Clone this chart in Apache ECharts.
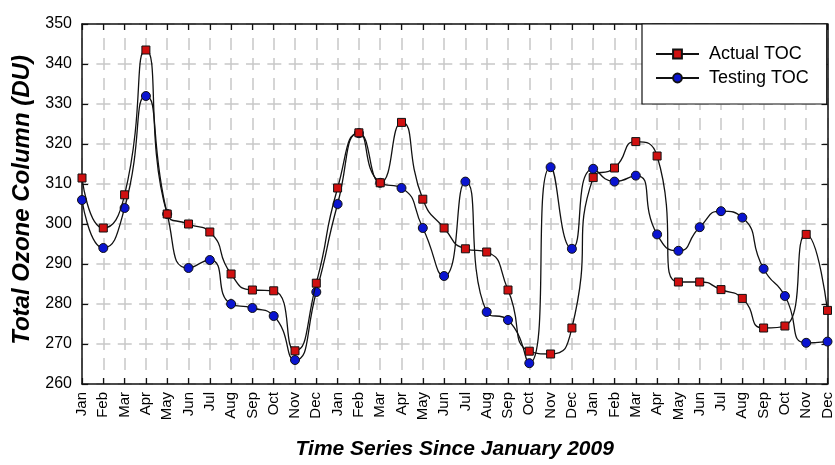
<!DOCTYPE html>
<html>
<head>
<meta charset="utf-8">
<script src="https://cdn.jsdelivr.net/npm/echarts@6/dist/echarts.min.js"></script>
<style>
  html, body { margin: 0; padding: 0; background: #fff; }
  #chart { width: 835px; height: 465px; }
</style>
</head>
<body>
<div id="chart"></div>
<script>
// Monthly total ozone column, Jan 2009 - Dec 2011
const months = ['Jan', 'Feb', 'Mar', 'Apr', 'May', 'Jun', 'Jul', 'Aug', 'Sep', 'Oct', 'Nov', 'Dec'];
const categories = months.concat(months, months);

const actualTOC = [
  311.5, 299.0, 307.3, 343.5, 302.5, 300.0, 298.0, 287.5, 283.5, 283.3, 268.3, 285.2,
  309.0, 322.8, 310.3, 325.4, 306.2, 299.0, 293.8, 293.0, 283.5, 268.2, 267.5, 274.0,
  311.6, 314.0, 320.6, 317.0, 285.5, 285.5, 283.6, 281.4, 274.0, 274.5, 297.4, 278.4
];
const testingTOC = [
  306.0, 294.0, 304.0, 332.0, 302.5, 289.0, 291.0, 280.0, 279.0, 277.0, 266.0, 283.0,
  305.0, 322.7, 310.3, 309.0, 299.0, 287.0, 310.6, 278.0, 276.0, 265.2, 314.2, 293.8,
  313.8, 310.6, 312.1, 297.4, 293.3, 299.2, 303.2, 301.6, 288.8, 282.0, 270.3, 270.6
];

const yMin = 260, yMax = 350, yStep = 10;
const FONT = 'Arial, "Liberation Sans", sans-serif';

const chart = echarts.init(document.getElementById('chart'), null, { renderer: 'canvas' });

const frameLine = { show: true, lineStyle: { color: '#111', width: 1.5 } };
const innerTick = { show: true, inside: true, length: 6, lineStyle: { color: '#111', width: 1.2 } };

chart.setOption({
  animation: false,
  backgroundColor: '#fff',
  grid: { left: 82, right: 6, top: 24, bottom: 79 },
  legend: {
    orient: 'vertical',
    left: 642,
    top: 24,
    padding: [20, 18, 16, 13],
    itemGap: 4,
    itemWidth: 43,
    itemHeight: 11,
    backgroundColor: '#fff',
    borderColor: '#111',
    borderWidth: 1.2,
    borderRadius: 0,
    textStyle: { fontFamily: FONT, fontSize: 18, color: '#000', lineHeight: 20, padding: [0, 0, 0, 5] },
    data: ['Actual TOC', 'Testing TOC']
  },
  xAxis: [
    {
      type: 'category',
      data: categories,
      boundaryGap: false,
      axisLine: frameLine,
      axisTick: Object.assign({ interval: 0 }, innerTick),
      axisLabel: {
        interval: 0, rotate: 90, margin: 8,
        fontFamily: FONT, fontSize: 15, color: '#000'
      },
      splitLine: {
        show: true, interval: 0,
        lineStyle: { color: '#c8c8c8', width: 1.5, type: [12, 8], dashOffset: 6 }
      },
      name: 'Time Series Since January 2009',
      nameLocation: 'middle',
      nameGap: 55,
      nameTextStyle: { fontFamily: FONT, fontSize: 21, fontWeight: 'bold', fontStyle: 'italic', color: '#000' }
    },
    {
      type: 'category',
      data: categories,
      boundaryGap: false,
      position: 'top',
      axisLine: frameLine,
      axisTick: Object.assign({ interval: 0 }, innerTick),
      axisLabel: { show: false },
      splitLine: { show: false }
    }
  ],
  yAxis: [
    {
      type: 'value',
      min: yMin, max: yMax, interval: yStep,
      axisLine: frameLine,
      axisTick: innerTick,
      axisLabel: { margin: 10, fontFamily: FONT, fontSize: 16, color: '#000' },
      splitLine: {
        show: true,
        lineStyle: { color: '#c8c8c8', width: 1.5, type: [14, 7.37], dashOffset: 7 }
      },
      name: 'Total Ozone Column (DU)',
      nameLocation: 'middle',
      nameGap: 48,
      nameTextStyle: { fontFamily: FONT, fontSize: 24, fontWeight: 'bold', fontStyle: 'italic', color: '#000', padding: [0, 0, 0, 8] }
    },
    {
      type: 'value',
      min: yMin, max: yMax, interval: yStep,
      position: 'right',
      axisLine: frameLine,
      axisTick: innerTick,
      axisLabel: { show: false },
      splitLine: { show: false }
    }
  ],
  series: [
    {
      name: 'Actual TOC',
      type: 'line',
      data: actualTOC,
      smooth: 0.6,
      symbol: 'rect',
      symbolSize: 8,
      showAllSymbol: true,
      lineStyle: { color: '#111', width: 1.3 },
      itemStyle: { color: '#d01010', borderColor: '#111', borderWidth: 1 },
      z: 3
    },
    {
      name: 'Testing TOC',
      type: 'line',
      data: testingTOC,
      smooth: 0.6,
      symbol: 'circle',
      symbolSize: 9,
      showAllSymbol: true,
      lineStyle: { color: '#111', width: 1.3 },
      itemStyle: { color: '#0a14d0', borderColor: '#111', borderWidth: 1 },
      z: 2
    }
  ]
});
</script>
</body>
</html>
